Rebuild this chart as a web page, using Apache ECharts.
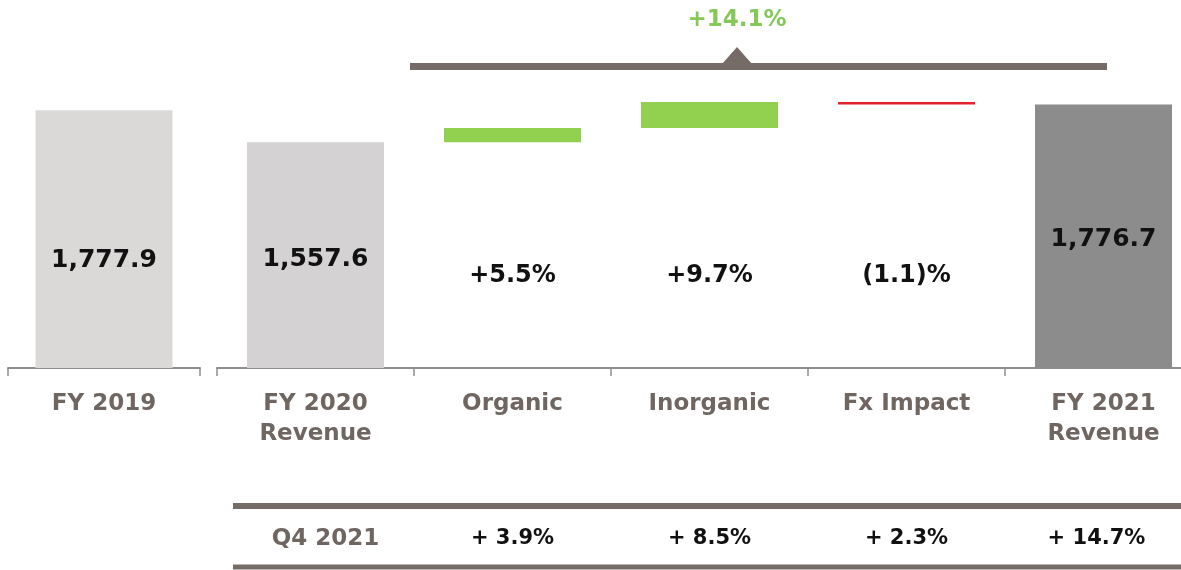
<!DOCTYPE html>
<html lang="en">

<head>
    <meta charset="UTF-8">
    <title>Revenue bridge</title>
    <style>
        html,
        body {
            height: 100%;
            width: 100%;
            margin: 0;
            padding: 0;
            overflow: hidden;
            background: #fff;
        }
    </style>
</head>

<body>
    <!-- a bit wider than the window so the last category band keeps its full width -->
    <div id="main" style="width: 1210px;height:570px;"></div>
    <script src="https://cdn.jsdelivr.net/npm/echarts@6/dist/echarts.min.js"></script>
    <script type="text/javascript">
        // categories and values
        var categories = ['FY 2019', 'FY 2020\nRevenue', 'Organic', 'Inorganic', 'Fx Impact', 'FY 2021\nRevenue'];
        var barBase = [0, 0, 1557.6, 1656, 1818, 0];
        var barTop = [1777.9, 1557.6, 1656, 1835, 1835, 1818];
        var barLabels = ['1,777.9', '1,557.6', '+5.5%', '+9.7%', '(1.1)%', '1,776.7'];
        var q4Labels = ['Q4 2021', '+ 3.9%', '+ 8.5%', '+ 2.3%', '+ 14.7%'];
        var totalChange = '+14.1%';

        // styles
        var barColors = ['#dbd8d8', '#d4d2d2', '#92d050', '#92d050', '#e3232b', '#8c8c8c'];
        var labelLift = [95, 96, 80, 80, 80, 116];
        var labelSize = [25, 25, 24, 24, 24, 25];
        var brown = '#756b67';
        var labelBrown = '#6f6561';
        var font = 'DejaVu Sans';

        var myChart = echarts.init(document.getElementById('main'));

        function label(i) {
            return {
                show: true,
                position: 'insideBottom',
                distance: labelLift[i],
                formatter: barLabels[i],
                color: '#111',
                fontFamily: font,
                fontWeight: 'bold',
                fontSize: labelSize[i]
            };
        }

        // waterfall = transparent base + visible segment, one pair per grid
        function pair(from, to, axis) {
            var base = [], top = [];
            for (var i = from; i < to; i++) {
                var b = { value: barBase[i] };
                var t = { value: barTop[i] - barBase[i], itemStyle: { color: barColors[i] } };
                if (barBase[i] > 0) b.label = label(i); else t.label = label(i);
                base.push(b);
                top.push(t);
            }
            return [{
                type: 'bar', stack: 's' + axis, xAxisIndex: axis, yAxisIndex: axis,
                barWidth: 137, itemStyle: { color: 'transparent' }, data: base
            }, {
                type: 'bar', stack: 's' + axis, xAxisIndex: axis, yAxisIndex: axis,
                barWidth: 137, data: top
            }];
        }

        var catAxis = {
            type: 'category',
            position: 'bottom',
            axisLine: { lineStyle: { color: '#8e8e8e', width: 2 } },
            axisTick: { show: true, length: 8, lineStyle: { color: '#8e8e8e', width: 1.5 } },
            axisLabel: {
                interval: 0,
                margin: 21,
                color: labelBrown,
                fontFamily: font,
                fontWeight: 'bold',
                fontSize: 23,
                lineHeight: 30
            }
        };

        var option = {
            animation: false,
            grid: [
                { left: 8, width: 192, top: 49, bottom: 202 },
                { left: 217, width: 985, top: 49, bottom: 202 }
            ],
            xAxis: [
                Object.assign({}, catAxis, { gridIndex: 0, data: categories.slice(0, 1) }),
                Object.assign({}, catAxis, { gridIndex: 1, data: categories.slice(1) }),
                {
                    type: 'category',
                    gridIndex: 1,
                    position: 'bottom',
                    offset: 152,
                    data: q4Labels,
                    axisLine: { show: false },
                    axisTick: { show: false },
                    axisLabel: {
                        interval: 0,
                        margin: 8,
                        formatter: function (v, i) {
                            if (i === 0) return '{q|' + v + '}';
                            if (i === q4Labels.length - 1) return '{last|' + v + '}';
                            return '{v|' + v + '}';
                        },
                        rich: {
                            q: { color: labelBrown, fontFamily: font, fontWeight: 'bold', fontSize: 23, padding: [0, 0, 0, 20] },
                            v: { color: '#111', fontFamily: font, fontWeight: 'bold', fontSize: 21 },
                            last: { color: '#111', fontFamily: font, fontWeight: 'bold', fontSize: 21, padding: [0, 14, 0, 0] }
                        }
                    }
                }
            ],
            yAxis: [
                { type: 'value', gridIndex: 0, min: 0, max: 2200, show: false },
                { type: 'value', gridIndex: 1, min: 0, max: 2200, show: false }
            ],
            graphic: [
                { type: 'line', shape: { x1: 410, y1: 66.5, x2: 1107, y2: 66.5 }, style: { stroke: brown, lineWidth: 7 } },
                { type: 'polygon', shape: { points: [[722, 64], [737, 47], [752, 64]] }, style: { fill: brown } },
                {
                    type: 'text', x: 737, y: 20,
                    style: {
                        text: totalChange, fill: '#84c857', align: 'center', verticalAlign: 'middle',
                        font: 'bold 23px "DejaVu Sans"'
                    }
                },
                { type: 'line', shape: { x1: 233, y1: 506, x2: 1210, y2: 506 }, style: { stroke: brown, lineWidth: 6 } },
                { type: 'line', shape: { x1: 233, y1: 567, x2: 1210, y2: 567 }, style: { stroke: brown, lineWidth: 5 } }
            ],
            series: pair(0, 1, 0).concat(pair(1, categories.length, 1))
        };
        myChart.setOption(option);
    </script>
</body>

</html>
